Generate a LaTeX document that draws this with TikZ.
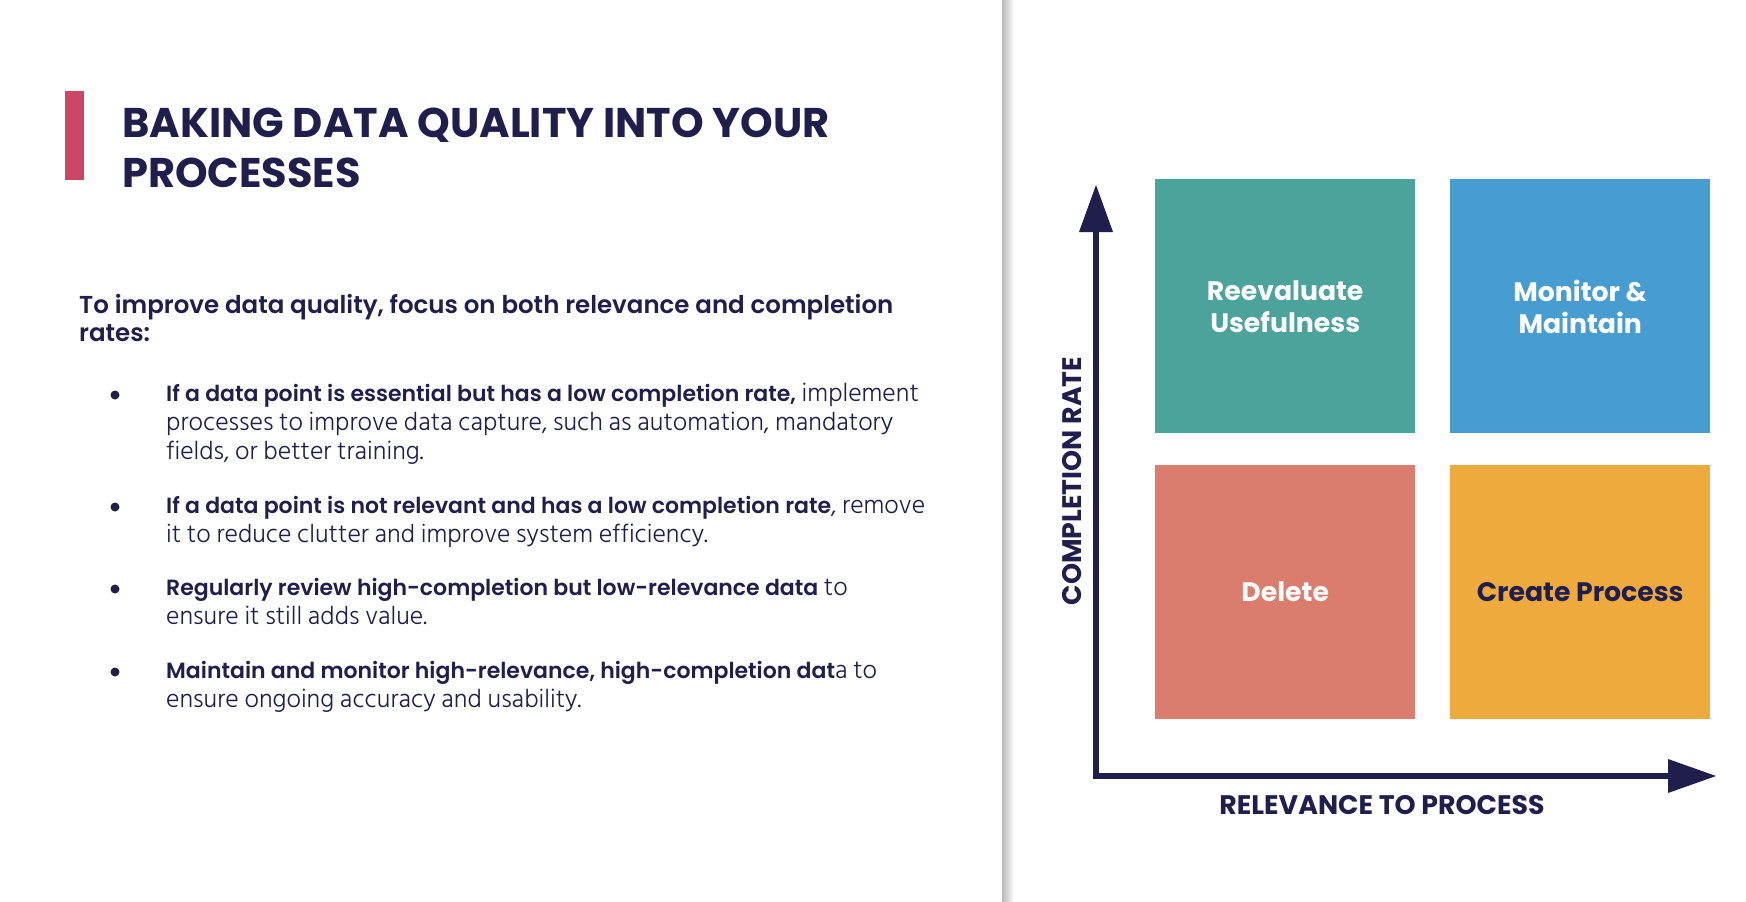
\documentclass[tikz,border=0pt]{standalone}
\usepackage{fontspec}
\IfFontExistsTF{Hind Siliguri Light}{\setmainfont{Hind Siliguri Light}}{\setmainfont{Hind Siliguri}}
\newfontfamily\pop{Poppins}
\IfFontExistsTF{Poppins SemiBold}{\newfontfamily\popsemi{Poppins SemiBold}}{\newfontfamily\popsemi{Poppins}[UprightFont=*-Bold]}
\definecolor{navy}{HTML}{1F1E4D}
\definecolor{barred}{HTML}{CC4766}
\definecolor{teal}{HTML}{4BA39B}
\definecolor{qblue}{HTML}{479DD1}
\definecolor{salmon}{HTML}{DA7D6D}
\definecolor{qorange}{HTML}{EFAA3E}
\tikzset{
  quad/.style={draw=none, minimum width=260pt, minimum height=254pt, inner sep=0pt, anchor=north west},
  qlabel/.style={font=\pop\bfseries\fontsize{26.7}{32}\selectfont, align=center, text=white},
  bul/.style={anchor=base west, align=left, text=navy, inner sep=0pt, font=\fontsize{25.8}{29}\selectfont},
  dot/.style={circle, fill=navy, minimum size=9pt, inner sep=0pt},
  axlab/.style={text=navy, font=\pop\bfseries\fontsize{26.8}{30}\selectfont},
}
\newcommand{\bb}[1]{{\popsemi\fontsize{22}{29}\selectfont #1}}
\begin{document}
\begin{tikzpicture}[x=1pt,y=1pt]
\useasboundingbox (0,0) rectangle (1746,-902);
\fill[white] (0,0) rectangle (1746,-902);
% divider shadow
\shade[left color=gray!55, right color=white] (1002,0) rectangle (1014,-902);
% red bar
\fill[barred] (65,-91) rectangle (84,-180);
% title
\node[anchor=base west, inner sep=0pt, text=navy, align=left, font=\pop\bfseries\fontsize{41.5}{50}\selectfont] (title) at (122,-187) {BAKING DATA QUALITY INTO YOUR\\PROCESSES};
% subtitle
\node[anchor=base west, inner sep=0pt, text=navy, align=left, font=\popsemi\fontsize{24.5}{28}\selectfont] (sub) at (79,-341) {To improve data quality, focus on both relevance and completion\\rates:};
% bullets
\node[bul] (b1) at (166,-459) {\bb{If a data point is essential but has a low completion rate,} implement\\processes to improve data capture, such as automation, mandatory\\fields, or better training.};
\node[bul] (b2) at (166,-542) {\bb{If a data point is not relevant and has a low completion rate}, remove\\it to reduce clutter and improve system efficiency.};
\node[bul] (b3) at (166,-624) {\bb{Regularly review high-completion but low-relevance data} to\\ensure it still adds value.};
\node[bul] (b4) at (166,-707) {\bb{Maintain and monitor high-relevance, high-completion dat}a to\\ensure ongoing accuracy and usability.};
\node[dot] (d1) at (115,-395) {};
\node[dot] (d2) at (115,-507) {};
\node[dot] (d3) at (115,-589) {};
\node[dot] (d4) at (115,-672) {};
% quadrants
\node[quad, fill=teal] (tl) at (1155,-179) {};
\node[quad, fill=qblue] (tr) at (1450,-179) {};
\node[quad, fill=salmon] (bl) at (1155,-465) {};
\node[quad, fill=qorange] (br) at (1450,-465) {};
\node[qlabel] (ltl) at ([yshift=-1pt]tl.center) {Reevaluate\\Usefulness};
\node[qlabel] (ltr) at ([yshift=-1pt]tr.center) {Monitor \&\\Maintain};
\node[qlabel] (lbl) at (bl.center) {Delete};
\node[qlabel, text=navy] (lbr) at (br.center) {Create Process};
% axes
\coordinate (corner) at (1096,-776);
\coordinate (ytip) at (1096,-185);
\coordinate (xtip) at (1716,-776);
\draw[navy, line width=6pt, line join=miter] (1096,-230) -- (corner) -- (1670,-776);
\fill[navy] (ytip) -- (1079,-232) -- (1113,-232) -- cycle;
\fill[navy] (xtip) -- (1668,-759) -- (1668,-793) -- cycle;
\node[axlab, rotate=90] (ylab) at (1072,-481) {COMPLETION RATE};
\node[axlab] (xlab) at (1382,-805) {RELEVANCE TO PROCESS};
\end{tikzpicture}
\end{document}
